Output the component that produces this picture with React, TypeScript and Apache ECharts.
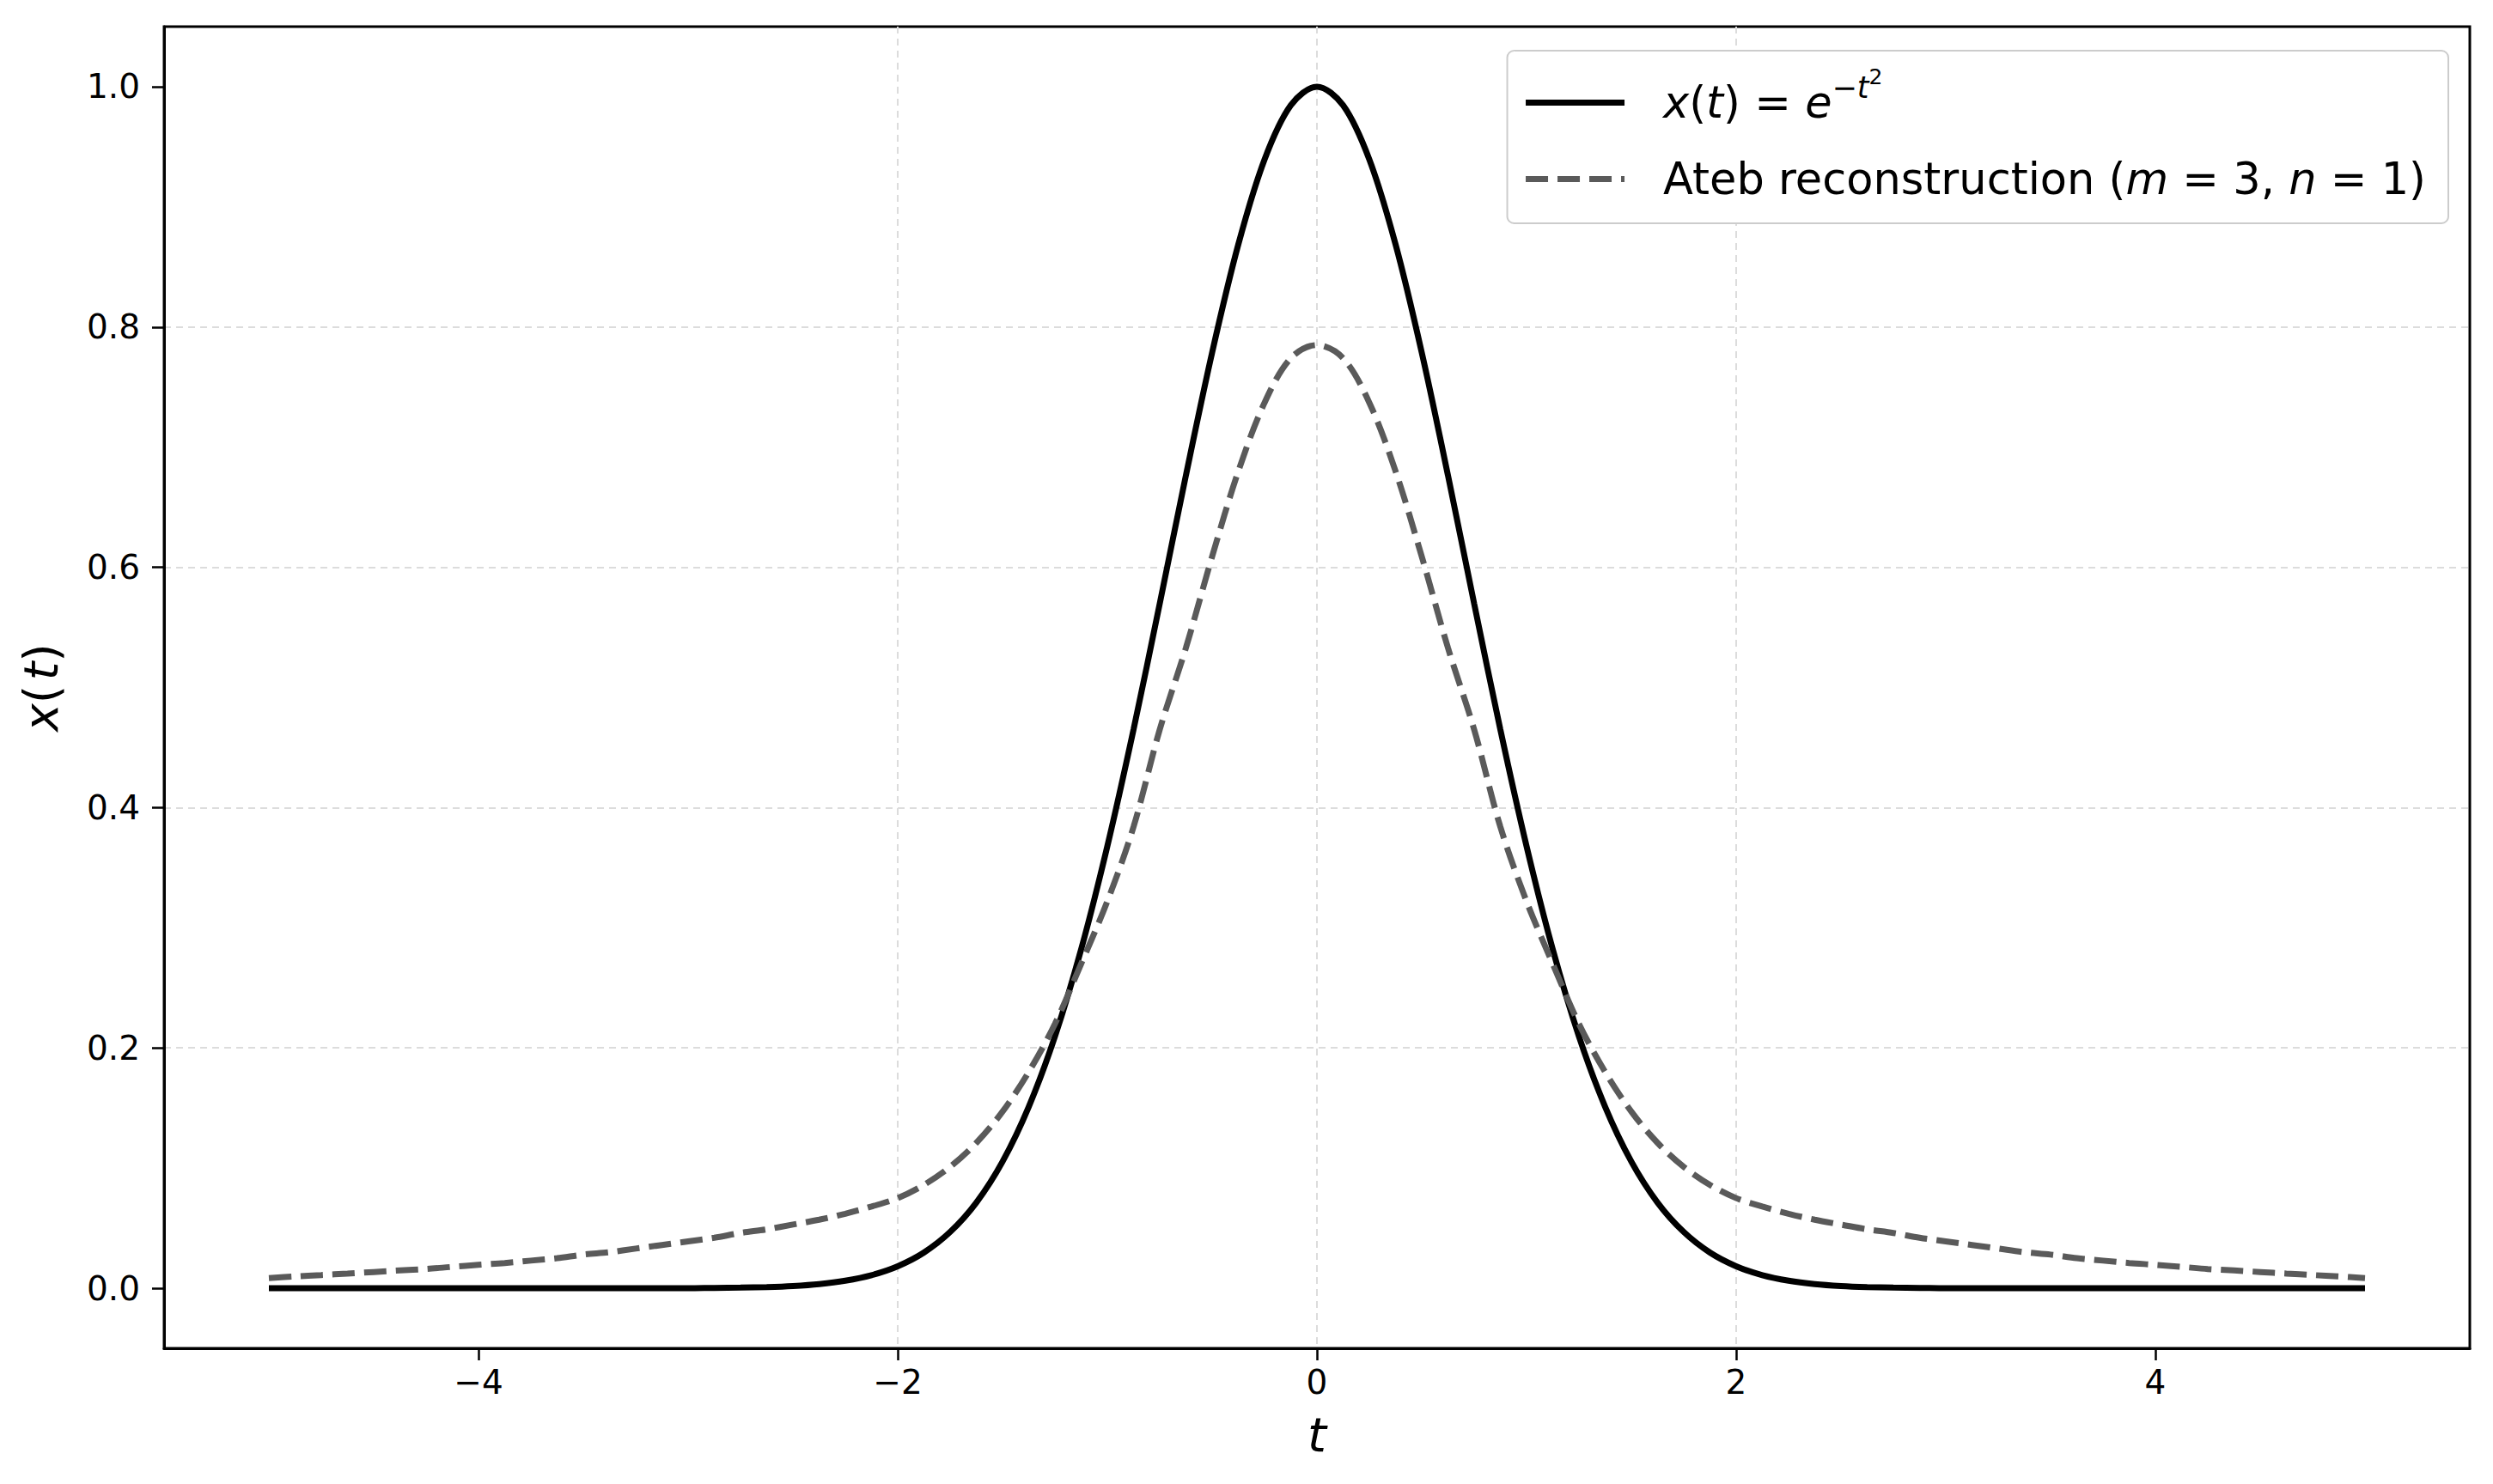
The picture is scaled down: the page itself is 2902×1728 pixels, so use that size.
import { useEffect, useRef } from "react";
import * as echarts from "echarts";

// sample points along t (every 0.125)
const tValues = [
    -5, -4.875, -4.75, -4.625, -4.5, -4.375, -4.25, -4.125, -4, -3.875, -3.75, -3.625, -3.5,
    -3.375, -3.25, -3.125, -3, -2.875, -2.75, -2.625, -2.5, -2.375, -2.25, -2.125, -2,
    -1.875, -1.75, -1.625, -1.5, -1.375, -1.25, -1.125, -1, -0.875, -0.75, -0.625, -0.5,
    -0.375, -0.25, -0.125, 0, 0.125, 0.25, 0.375, 0.5, 0.625, 0.75, 0.875, 1,
    1.125, 1.25, 1.375, 1.5, 1.625, 1.75, 1.875, 2, 2.125, 2.25, 2.375, 2.5,
    2.625, 2.75, 2.875, 3, 3.125, 3.25, 3.375, 3.5, 3.625, 3.75, 3.875, 4,
    4.125, 4.25, 4.375, 4.5, 4.625, 4.75, 4.875, 5
];

// solid curve x(t) = e^{-t^2}
const gaussValues = [
    0, 0, 0, 0, 0, 0, 0, 0, 0, 0, 0, 0, 0,
    0, 0, 0, 0, 0.0003, 0.0005, 0.001, 0.0019, 0.0035, 0.0063, 0.0109, 0.0183,
    0.0297, 0.0468, 0.0713, 0.1054, 0.151, 0.2096, 0.282, 0.3679, 0.465, 0.5698, 0.6766, 0.7788,
    0.8688, 0.9394, 0.9845, 1.0, 0.9845, 0.9394, 0.8688, 0.7788, 0.6766, 0.5698, 0.465, 0.3679,
    0.282, 0.2096, 0.151, 0.1054, 0.0713, 0.0468, 0.0297, 0.0183, 0.0109, 0.0063, 0.0035, 0.0019,
    0.001, 0.0005, 0.0003, 0, 0, 0, 0, 0, 0, 0, 0, 0,
    0, 0, 0, 0, 0, 0, 0, 0
];

// dashed curve, Ateb reconstruction (m = 3, n = 1)
const atebValues = [
    0.0085, 0.0098, 0.011, 0.0122, 0.0135, 0.0148, 0.016, 0.0178, 0.0195, 0.021, 0.023, 0.025, 0.028,
    0.03, 0.033, 0.036, 0.039, 0.042, 0.046, 0.049, 0.053, 0.057, 0.062, 0.068, 0.075,
    0.086, 0.101, 0.121, 0.147, 0.18, 0.22, 0.27, 0.322, 0.384, 0.465, 0.533, 0.609,
    0.68, 0.737, 0.774, 0.785, 0.774, 0.737, 0.68, 0.609, 0.533, 0.465, 0.384, 0.322,
    0.27, 0.22, 0.18, 0.147, 0.121, 0.101, 0.086, 0.075, 0.068, 0.062, 0.057, 0.053,
    0.049, 0.046, 0.042, 0.039, 0.036, 0.033, 0.03, 0.028, 0.025, 0.023, 0.021, 0.0195,
    0.0178, 0.016, 0.0148, 0.0135, 0.0122, 0.011, 0.0098, 0.0085
];

const xTicks = [-4, -2, 0, 2, 4];
const yTicks = [0, 0.2, 0.4, 0.6, 0.8, 1.0];

const GAUSS_NAME = "x(t) = e^(-t^2)";
const ATEB_NAME = "Ateb reconstruction (m = 3, n = 1)";

const FONT = "DejaVu Sans";

function App() {

    const chartRef =
        useRef<HTMLDivElement>(null);

    useEffect(() => {

        document.body.style.margin = "0";

        if (!chartRef.current)
            return;

        const chart =
            echarts.init(chartRef.current, null, { renderer: "svg" });

        const gridLine = {
            show: true,
            showMinLine: false,
            showMaxLine: false,
            lineStyle: {
                color: "#dcdcdc",
                width: 2,
                type: [8, 6]
            }
        };

        const tickLabel = {
            fontFamily: FONT,
            fontSize: 39,
            color: "#000"
        };

        const legendFont = 51;

        chart.setOption({

            animation: false,
            backgroundColor: "#fff",

            grid: {
                left: 191,
                right: 27,
                top: 31,
                bottom: 158,
                show: true,
                borderColor: "#000",
                borderWidth: 3
            },

            legend: {
                orient: "vertical",
                right: 52,
                top: 59,
                selectedMode: false,
                itemWidth: 115,
                itemHeight: 20,
                itemGap: 38,
                padding: [18, 26, 26, 18],
                backgroundColor: "#fff",
                borderColor: "#cccccc",
                borderWidth: 2,
                borderRadius: 8,
                itemStyle: { opacity: 0 },
                lineStyle: { width: 7 },
                data: [GAUSS_NAME, ATEB_NAME],
                formatter: (name: string) =>
                    name === GAUSS_NAME
                        ? "{i|x}{r|(}{i|t}{r|) = }{i|e}{s|\u2212}{si|t}{ss|2}"
                        : "{r|Ateb reconstruction (}{i|m}{r| = 3, }{i|n}{r| = 1)}",
                textStyle: {
                    fontFamily: FONT,
                    fontSize: legendFont,
                    color: "#000",
                    padding: [0, 0, 0, 40],
                    rich: {
                        r: { fontFamily: FONT, fontSize: legendFont, color: "#000" },
                        i: { fontFamily: FONT, fontSize: legendFont, color: "#000", fontStyle: "italic" },
                        s: { fontFamily: FONT, fontSize: 35, color: "#000", padding: [0, 0, 36, 0] },
                        si: { fontFamily: FONT, fontSize: 35, color: "#000", fontStyle: "italic", padding: [0, 0, 36, 0] },
                        ss: { fontFamily: FONT, fontSize: 25, color: "#000", padding: [0, 0, 60, 0] }
                    }
                }
            },

            xAxis: {
                type: "value",
                min: -5.5,
                max: 5.5,
                name: "t",
                nameLocation: "middle",
                nameGap: 72,
                nameTextStyle: {
                    fontFamily: FONT,
                    fontSize: 56,
                    fontStyle: "italic",
                    color: "#000"
                },
                axisLine: {
                    show: true,
                    onZero: false,
                    lineStyle: { color: "#000", width: 3 }
                },
                axisTick: {
                    show: true,
                    customValues: xTicks,
                    length: 14,
                    lineStyle: { color: "#000", width: 2.5 }
                },
                axisLabel: {
                    ...tickLabel,
                    customValues: xTicks,
                    margin: 20,
                    formatter: (v: number) =>
                        v < 0 ? "\u2212" + Math.abs(v) : String(v)
                },
                splitLine: gridLine
            },

            yAxis: {
                type: "value",
                min: -0.05,
                max: 1.05,
                name: "{i|x}(\u200a{i|t})",
                nameLocation: "middle",
                nameRotate: 90,
                nameGap: 116,
                nameTextStyle: {
                    fontFamily: FONT,
                    fontSize: 55,
                    color: "#000",
                    rich: {
                        i: { fontFamily: FONT, fontSize: 55, color: "#000", fontStyle: "italic" }
                    }
                },
                axisLine: {
                    show: true,
                    onZero: false,
                    lineStyle: { color: "#000", width: 3 }
                },
                axisTick: {
                    show: true,
                    customValues: yTicks,
                    length: 14,
                    lineStyle: { color: "#000", width: 2.5 }
                },
                axisLabel: {
                    ...tickLabel,
                    customValues: yTicks,
                    margin: 28,
                    formatter: (v: number) => v.toFixed(1)
                },
                splitLine: gridLine
            },

            series: [
                {
                    name: GAUSS_NAME,
                    type: "line",
                    data: tValues.map((t, i) => [t, gaussValues[i]]),
                    symbol: "none",
                    showSymbol: false,
                    smooth: 0.33,
                    smoothConstraint: false,
                    itemStyle: { color: "#000" },
                    lineStyle: { color: "#000", width: 7 }
                },
                {
                    name: ATEB_NAME,
                    type: "line",
                    data: tValues.map((t, i) => [t, atebValues[i]]),
                    symbol: "none",
                    showSymbol: false,
                    smooth: 0.33,
                    smoothConstraint: false,
                    itemStyle: { color: "#5a5a5a" },
                    lineStyle: { color: "#5a5a5a", width: 7, type: [26, 11] }
                }
            ]
        });

        return () => {
            chart.dispose();
        };

    }, []);

    return (
        <div
            ref={chartRef}
            style={{
                width: "2902px",
                height: "1728px"
            }}
        />
    );
}

export default App;
